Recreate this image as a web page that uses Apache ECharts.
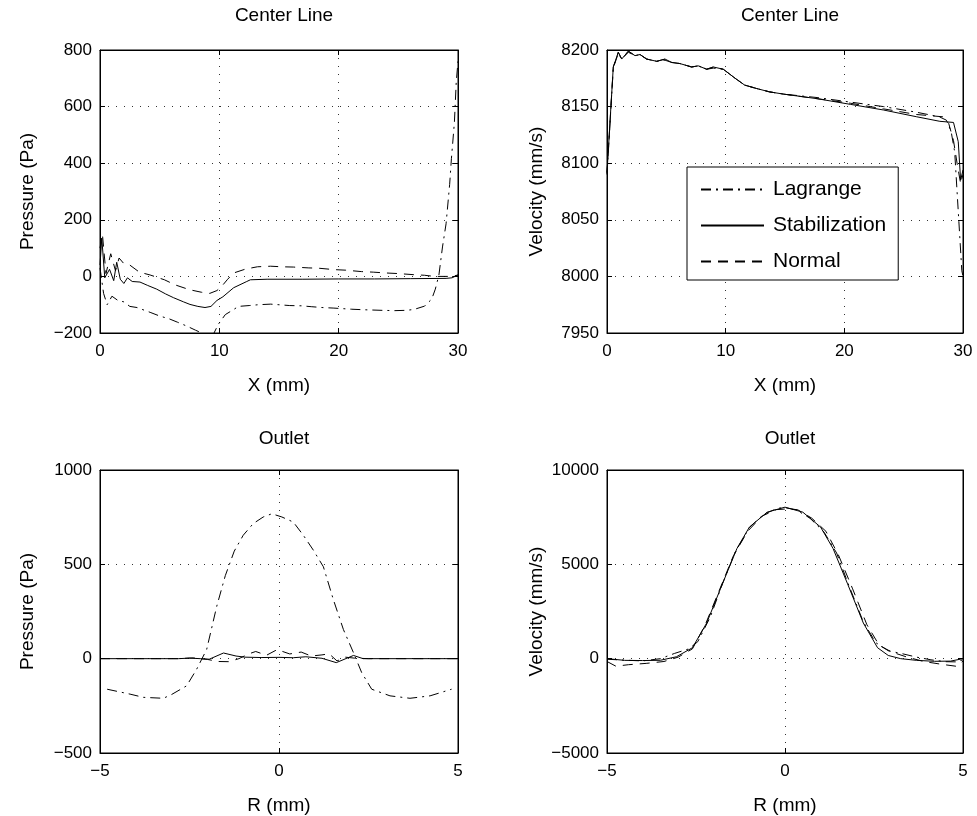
<!DOCTYPE html>
<html>
<head>
<meta charset="utf-8">
<script src="https://cdn.jsdelivr.net/npm/echarts@6/dist/echarts.min.js"></script>
<style>
  html, body { margin: 0; padding: 0; background: #fff; }
  #main { width: 977px; height: 816px; }
</style>
</head>
<body>
<div id="main"></div>
<script>
// ---------------------------------
// Data
// ---------------------------------
const SERIES_NAMES = ['Lagrange', 'Stabilization', 'Normal'];

// Center line, pressure (X mm, Pa)
const clPresLagrange = [[0,30],[0.3,-60],[0.6,-100],[1.0,-70],[1.5,-85],[2.0,-90],[2.5,-106],[3.1,-110],[4.2,-127],[5.0,-140],[5.8,-150],[6.5,-162],[7.3,-176],[8.0,-190],[8.8,-205],[9.5,-205],[9.9,-170],[10.5,-135],[11.2,-117],[11.6,-106],[12.5,-103],[13.3,-100],[14.3,-98],[15.9,-103],[16.9,-104],[17.7,-107],[18.6,-110],[19.6,-112],[21.1,-116],[22.2,-118],[23.7,-120],[24.7,-121],[25.6,-120],[26.3,-117],[27.2,-105],[27.8,-80],[28.1,-45],[28.4,5],[28.7,104],[29.0,186],[29.3,325],[29.45,417],[29.7,545],[29.85,685],[30,760]];
const clPresStab = [[0,40],[0.15,135],[0.4,-5],[0.8,25],[1.15,-15],[1.4,50],[1.7,-10],[2.0,-25],[2.3,-5],[2.7,-18],[3.35,-20],[4.0,-32],[4.75,-45],[5.5,-62],[6.15,-75],[7.0,-90],[7.54,-99],[8.2,-106],[8.8,-110],[9.3,-106],[9.8,-85],[10.3,-72],[11.2,-40],[12.3,-18],[12.6,-12],[14,-10],[17,-10],[20,-9],[23,-9],[26,-8],[29,-7],[29.5,-5],[30,5]];
const clPresNormal = [[0,100],[0.2,150],[0.5,10],[0.9,80],[1.3,20],[1.6,65],[2.0,45],[2.5,40],[3.3,15],[4.2,5],[5.4,-12],[6.3,-30],[7.5,-47],[8.5,-56],[9.2,-60],[9.8,-50],[10.2,-35],[10.7,-10],[11.2,12],[12.2,26],[13.2,34],[14.3,36],[15.2,34],[16.2,33],[17.5,30],[18.3,29],[19.6,24],[20.6,22],[21.9,17],[22.9,15],[24,12],[25,10],[26.3,6],[27.2,4],[28,0],[29.5,0],[30,5]];

// Center line, velocity (X mm, mm/s)
const clVelStab = [[0,8092],[0.53,8185],[0.95,8198],[1.24,8192],[1.8,8199],[2.36,8195],[2.78,8196],[3.34,8192],[4.19,8190],[4.89,8192],[5.45,8189],[6.15,8188],[7.13,8185],[7.69,8186],[8.4,8183],[8.96,8185],[9.8,8183],[10.8,8175],[11.6,8169],[12.6,8166],[13.7,8163],[14.9,8161],[17.7,8157],[20.5,8152],[23.3,8147],[26.1,8141],[28.05,8137],[29.2,8136],[29.6,8119],[29.8,8085],[30,8094]];
const clVelLagrange = [[0,8090],[0.53,8184],[0.95,8197],[1.24,8192],[1.8,8198],[2.36,8195],[2.78,8196],[3.34,8192],[4.19,8190],[4.89,8191],[5.45,8189],[6.15,8188],[7.13,8185],[7.69,8186],[8.4,8183],[8.96,8184],[9.8,8183],[10.8,8175],[11.6,8169],[12.6,8166],[13.7,8163],[14.9,8161],[17.7,8158],[20.5,8154],[23.3,8150],[26.1,8145],[28.0,8141],[28.6,8138],[29.0,8128],[29.3,8110],[29.5,8075],[29.7,8040],[29.9,8005],[30,8000]];
const clVelNormal = [[0,8091],[0.53,8185],[0.95,8198],[1.24,8192],[1.8,8199],[2.36,8195],[2.78,8196],[3.34,8192],[4.19,8190],[4.89,8192],[5.45,8189],[6.15,8188],[7.13,8185],[7.69,8186],[8.4,8183],[8.96,8185],[9.8,8183],[10.8,8175],[11.6,8169],[12.6,8166],[13.7,8163],[14.9,8161],[17.7,8157],[20.5,8153],[23.3,8148],[26.1,8143],[28.3,8141],[28.8,8135],[29.2,8120],[29.5,8100],[29.8,8082],[30,8090]];

// Outlet, pressure (R mm, Pa)
const olPresLagrange = [[-4.8,-162],[-4.16,-188],[-3.79,-205],[-3.23,-210],[-3.0,-190],[-2.58,-144],[-2.3,-56],[-2.02,49],[-1.74,277],[-1.5,440],[-1.25,570],[-1.0,654],[-0.72,716],[-0.44,751],[-0.2,768],[0.08,751],[0.4,724],[0.68,654],[0.96,575],[1.24,487],[1.52,312],[1.8,154],[2.08,32],[2.31,-74],[2.59,-162],[3.1,-197],[3.66,-210],[4.22,-197],[4.82,-162]];
const olPresStab = [[-5,0],[-2.8,0],[-2.5,3],[-2.2,0],[-1.95,-3],[-1.55,30],[-1.2,14],[-0.95,8],[-0.5,6],[0,7],[0.4,5],[0.75,10],[1.2,2],[1.6,-21],[2.08,17],[2.35,0],[5,0]];
const olPresNormal = [[-5,0],[-2.8,0],[-2.4,4],[-2.0,-4],[-1.7,-15],[-1.4,-16],[-1.12,0],[-0.85,25],[-0.65,38],[-0.35,18],[-0.05,48],[0.3,25],[0.62,35],[0.9,14],[1.2,20],[1.4,26],[1.62,-12],[1.85,8],[2.1,3],[2.5,0],[5,0]];

// Outlet, velocity (R mm, mm/s)
const olVelStab = [[-5,0],[-4.5,-90],[-4.0,-100],[-3.5,-85],[-3.05,100],[-2.6,580],[-2.2,1890],[-1.75,4000],[-1.35,5840],[-1.0,6975],[-0.5,7765],[0,8030],[0.5,7765],[1.0,6975],[1.35,5840],[1.75,4000],[2.2,1890],[2.6,580],[2.9,170],[3.25,0],[3.7,-90],[4.2,-140],[4.65,-130],[5,0]];
const olVelLagrange = [[-5,-30],[-4.5,-80],[-4.0,-120],[-3.5,0],[-3.1,280],[-2.7,520],[-2.45,900],[-2.1,2200],[-1.75,4000],[-1.4,5650],[-1.0,6950],[-0.6,7650],[-0.2,7980],[0,8000],[0.3,7900],[0.7,7450],[1.1,6700],[1.45,5600],[1.8,3850],[2.2,1950],[2.55,850],[2.9,420],[3.3,260],[3.7,80],[4.1,-60],[4.5,-160],[4.8,-170],[5,-60]];
const olVelNormal = [[-5,-150],[-4.75,-400],[-4.4,-320],[-3.9,-250],[-3.4,-150],[-3.0,80],[-2.6,520],[-2.25,1750],[-1.85,3600],[-1.45,5450],[-1.05,6750],[-0.65,7550],[-0.25,7900],[0,7930],[0.35,7900],[0.75,7450],[1.15,6750],[1.5,5500],[1.9,3700],[2.3,1800],[2.65,700],[3.0,350],[3.4,100],[3.9,-150],[4.4,-300],[4.8,-400],[5,-130]];

// Panels: title, axis names and ranges
const PANELS = [
  { title: 'Center Line', xName: 'X (mm)', yName: 'Pressure (Pa)',
    x: [0, 30, 10], y: [-200, 800, 200], data: [clPresLagrange, clPresStab, clPresNormal] },
  { title: 'Center Line', xName: 'X (mm)', yName: 'Velocity (mm/s)',
    x: [0, 30, 10], y: [7950, 8200, 50], data: [clVelLagrange, clVelStab, clVelNormal] },
  { title: 'Outlet', xName: 'R (mm)', yName: 'Pressure (Pa)',
    x: [-5, 5, 5], y: [-500, 1000, 500], data: [olPresLagrange, olPresStab, olPresNormal] },
  { title: 'Outlet', xName: 'R (mm)', yName: 'Velocity (mm/s)',
    x: [-5, 5, 5], y: [-5000, 10000, 5000], data: [olVelLagrange, olVelStab, olVelNormal] }
];

// ---------------------------------
// Layout / style
// ---------------------------------
const FONT = '"Liberation Sans", Arial, Helvetica, sans-serif';
const BOXES = [
  { left: 100, top: 50, width: 358, height: 283, titleTop: 1 },
  { left: 607, top: 50, width: 356, height: 283, titleTop: 1 },
  { left: 100, top: 470, width: 358, height: 284, titleTop: 424 },
  { left: 607, top: 470, width: 356, height: 284, titleTop: 424 }
];
const LINE_TYPES = [[10, 5, 2, 5], 'solid', [10, 7]];

function fmt(v) {
  return String(v).replace('-', '\u2212');
}

const titles = [];
const grids = [];
const xAxes = [];
const yAxes = [];
const series = [];

PANELS.forEach((p, i) => {
  const b = BOXES[i];
  titles.push({
    text: p.title,
    left: b.left + b.width / 2,
    top: b.titleTop,
    textAlign: 'center',
    textStyle: { fontFamily: FONT, fontSize: 19, fontWeight: 'normal', color: '#000' }
  });
  grids.push({
    left: b.left, top: b.top, width: b.width, height: b.height,
    show: true, borderColor: '#000', borderWidth: 1, backgroundColor: '#fff'
  });
  const tick = { show: true, inside: true, length: 5, lineStyle: { color: '#000' } };
  // bottom + top x axes
  xAxes.push({
    type: 'value', gridIndex: i, position: 'bottom',
    min: p.x[0], max: p.x[1], interval: p.x[2],
    name: p.xName, nameLocation: 'middle', nameGap: 43,
    nameTextStyle: { fontFamily: FONT, fontSize: 19, color: '#000' },
    axisLine: { show: true, onZero: false, lineStyle: { color: '#000' } },
    axisTick: tick,
    axisLabel: { fontFamily: FONT, fontSize: 17, color: '#000', margin: 10, formatter: fmt },
    splitLine: { show: true, lineStyle: { color: '#333', type: [1, 7], width: 1 } }
  });
  xAxes.push({
    type: 'value', gridIndex: i, position: 'top',
    min: p.x[0], max: p.x[1], interval: p.x[2],
    axisLine: { show: true, onZero: false, lineStyle: { color: '#000' } },
    axisTick: tick, axisLabel: { show: false }, splitLine: { show: false }
  });
  // left + right y axes
  yAxes.push({
    type: 'value', gridIndex: i, position: 'left',
    min: p.y[0], max: p.y[1], interval: p.y[2],
    name: p.yName, nameLocation: 'middle', nameGap: i % 2 ? 61 : 63,
    nameTextStyle: { fontFamily: FONT, fontSize: 19, color: '#000' },
    axisLine: { show: true, onZero: false, lineStyle: { color: '#000' } },
    axisTick: tick,
    axisLabel: { fontFamily: FONT, fontSize: 17, color: '#000', margin: 8, formatter: fmt },
    splitLine: { show: true, lineStyle: { color: '#333', type: [1, 7], width: 1 } }
  });
  yAxes.push({
    type: 'value', gridIndex: i, position: 'right',
    min: p.y[0], max: p.y[1], interval: p.y[2],
    axisLine: { show: true, onZero: false, lineStyle: { color: '#000' } },
    axisTick: tick, axisLabel: { show: false }, splitLine: { show: false }
  });
  p.data.forEach((d, k) => {
    series.push({
      name: SERIES_NAMES[k],
      type: 'line',
      xAxisIndex: 2 * i,
      yAxisIndex: 2 * i,
      data: d,
      showSymbol: false,
      symbol: 'none',
      clip: true,
      color: '#000',
      lineStyle: { color: '#000', width: 1, type: LINE_TYPES[k] },
      z: 3 - k
    });
  });
});

var chartDom = document.getElementById('main');
var myChart = echarts.init(chartDom, null, { renderer: 'canvas' });

var option = {
  backgroundColor: '#fff',
  animation: false,
  title: titles,
  legend: {
    data: SERIES_NAMES,
    orient: 'vertical',
    left: 687,
    top: 167,
    backgroundColor: '#fff',
    borderColor: '#000',
    borderWidth: 1,
    borderRadius: 0,
    padding: [12, 12, 8, 13],
    itemWidth: 63,
    itemHeight: 18,
    itemGap: 15,
    // hide the marker dot, keep the line sample
    itemStyle: { opacity: 0, borderWidth: 0 },
    textStyle: { fontFamily: FONT, fontSize: 21, color: '#000', padding: [0, 0, 0, 4] },
    z: 10
  },
  grid: grids,
  xAxis: xAxes,
  yAxis: yAxes,
  series: series
};

option && myChart.setOption(option);
</script>
</body>
</html>
